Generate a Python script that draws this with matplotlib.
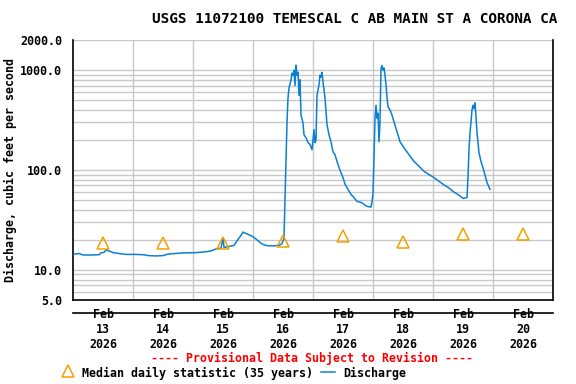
import matplotlib
matplotlib.use("Agg")
import matplotlib.pyplot as plt
from matplotlib.lines import Line2D
import numpy as np

# hours since 2026-02-13 00:00
hours = [0.4, 2.4, 4.0, 7.2, 10.4, 11.2, 12.4, 13.2, 14.4, 16.0, 18.4, 21.2, 25.2, 28.0, 30.4,
         33.2, 36.0, 38.0, 41.2, 44.0, 49.2, 53.2, 55.2, 57.2, 59.2, 60.0, 60.4, 62.4, 64.4,
         65.6, 66.8, 68.0, 69.2, 70.4, 72.0, 73.6, 74.8, 76.0, 77.6, 80.0, 82.4, 83.6, 84.4,
         84.8, 85.2, 85.6, 86.0, 86.4, 87.2, 87.6, 88.0, 88.4, 88.8, 89.2, 89.6, 90.0, 90.4,
         90.8, 91.2, 92.0, 92.4, 93.2, 94.0, 94.8, 95.2, 95.6, 96.0, 96.4, 96.8, 97.2, 97.6,
         98.4, 98.8, 99.2, 99.6, 100.0, 100.8, 101.6, 102.4, 103.2, 104.0, 104.8, 105.6, 106.4,
         107.2, 108.0, 108.8, 110.0, 111.2, 112.4, 113.6, 115.2, 116.4, 117.6, 119.2, 119.6,
         120.0, 120.4, 120.8, 121.2, 121.6, 122.0, 122.4, 122.8, 123.2, 123.6, 124.0, 124.4,
         124.8, 125.2, 125.6, 126.0, 126.8, 127.6, 128.4, 129.6, 130.8, 132.4, 134.4, 136.4,
         138.4, 140.4, 142.4, 144.4, 146.4, 148.4, 150.4, 152.4, 154.4, 156.0, 157.6, 158.0,
         158.4, 158.8, 159.2, 159.6, 160.0, 160.4, 160.8, 161.2, 161.6, 162.0, 162.4, 163.2,
         164.4, 165.6, 166.8]
discharge = [14.4, 14.6, 14.1, 14.1, 14.2, 14.8, 15.0, 15.8, 15.5, 14.9, 14.6, 14.3, 14.3, 14.2, 13.9,
             13.8, 13.9, 14.4, 14.6, 14.8, 14.9, 15.2, 15.5, 16.2, 16.5, 21.0, 16.8, 17.2, 17.6,
             19.5, 21.5, 23.9, 23.2, 22.5, 21.5, 20.0, 18.8, 18.0, 17.5, 17.4, 17.6, 18.3, 21,
             52, 122, 300, 526, 660, 795, 930, 880, 1000, 700, 1120, 890, 950, 560,
             800, 355, 295, 225, 210, 188, 180, 170, 160, 200, 253, 188, 200, 560,
             712, 890, 850, 950, 760, 525, 285, 225, 192, 152, 142, 122, 106,
             94, 84, 72, 64, 57, 53, 48.5, 47.5, 45.3, 43.3, 42.5, 48,
             58, 130, 330, 445, 330, 370, 192, 300, 1040, 1110, 1000, 1050,
             890, 712, 535, 430, 400, 355, 302, 242, 192, 167, 142, 122,
             109, 97, 90, 84, 77, 71, 66, 60, 56, 52, 53, 86,
             160, 236, 302, 400, 445, 410, 470, 340, 236, 187, 149, 122,
             97, 75, 64]

median_hours = [12, 36, 60, 84, 108, 132, 156, 180]
median_vals = [18.8, 18.8, 18.8, 19.3, 21.8, 19.0, 23.0, 23.0]

day_labels = ["Feb\n13\n2026", "Feb\n14\n2026", "Feb\n15\n2026", "Feb\n16\n2026",
              "Feb\n17\n2026", "Feb\n18\n2026", "Feb\n19\n2026", "Feb\n20\n2026"]
ytick_vals = [5, 10, 100, 1000, 2000]
ytick_labels = ["5.0", "10.0", "100.0", "1000.0", "2000.0"]

FONT = "DejaVu Sans Mono"
plt.rcParams['font.family'] = [FONT]
plt.rcParams['font.weight'] = 'bold'

W, H = 576, 384
fig = plt.figure(figsize=(W / 100, H / 100), dpi=100)
ax = fig.add_axes([73 / W, 1 - 300 / H, (553 - 73) / W, (300 - 40) / H])

blue = "#0a80d2"
orange = "#f5a000"
grid = "#c8c8c8"

ax.set_yscale('log')
ax.set_ylim(5, 2000)
ax.set_xlim(0, 192)

# grid lines
for dec in [1, 10, 100, 1000]:
    for m in range(1, 10):
        v = m * dec
        if 5 < v < 2000:
            ax.axhline(v, color=grid, lw=1, zorder=0)
ax.axhline(2000, color=grid, lw=1, zorder=0)
for d in range(1, 8):
    ax.axvline(24 * d, color=grid, lw=1, zorder=0)

ax.plot(hours, discharge, color=blue, lw=1.1, zorder=3)
ax.plot(median_hours, median_vals, linestyle='none', marker='^', markersize=8,
        markerfacecolor='none', markeredgecolor=orange, markeredgewidth=1.1, zorder=4)

ax.set_yticks(ytick_vals)
ax.set_yticklabels(ytick_labels)
ax.yaxis.set_minor_locator(matplotlib.ticker.NullLocator())
ax.set_xticks(median_hours)
ax.set_xticklabels(day_labels, linespacing=0.95)
ax.tick_params(axis='y', length=0, pad=8, labelsize=8.4)
ax.tick_params(axis='x', length=0, pad=-3, labelsize=8.4)
for t in ax.get_xticklabels() + ax.get_yticklabels():
    t.set_fontweight('bold')

ax.spines['top'].set_visible(False)
ax.spines['bottom'].set_position(('outward', 9))
ax.spines['bottom'].set_color('black')
ax.spines['left'].set_bounds(5, 2000)
ax.axhline(5, color='black', lw=1.2, zorder=5, clip_on=False)
for s in ['left', 'right', 'bottom']:
    ax.spines[s].set_linewidth(1.2)

ax.set_ylabel("Discharge, cubic feet per second", fontsize=8.4, fontweight='bold', labelpad=2)

fig.text(355 / W, 1 - 19 / H, "USGS 11072100 TEMESCAL C AB MAIN ST A CORONA CA",
         ha='center', va='center', fontsize=10.4, fontweight='bold')
fig.text(312 / W, 1 - 358 / H, "---- Provisional Data Subject to Revision ----",
         ha='center', va='center', fontsize=8.4, fontweight='bold', color='red')

# legend
fig.add_artist(Line2D([68 / W], [1 - 371 / H], transform=fig.transFigure, marker='^',
                      markersize=8, markerfacecolor='none', markeredgecolor=orange,
                      markeredgewidth=1.1, linestyle='none'))
fig.text(82 / W, 1 - 373 / H, "Median daily statistic (35 years)", ha='left', va='center',
         fontsize=8.4, fontweight='bold')
fig.add_artist(Line2D([321 / W, 335 / W], [1 - 372 / H, 1 - 372 / H], transform=fig.transFigure,
                      color=blue, lw=1.1))
fig.text(343 / W, 1 - 373 / H, "Discharge", ha='left', va='center', fontsize=8.4, fontweight='bold')

fig.savefig("out.png", dpi=100)
